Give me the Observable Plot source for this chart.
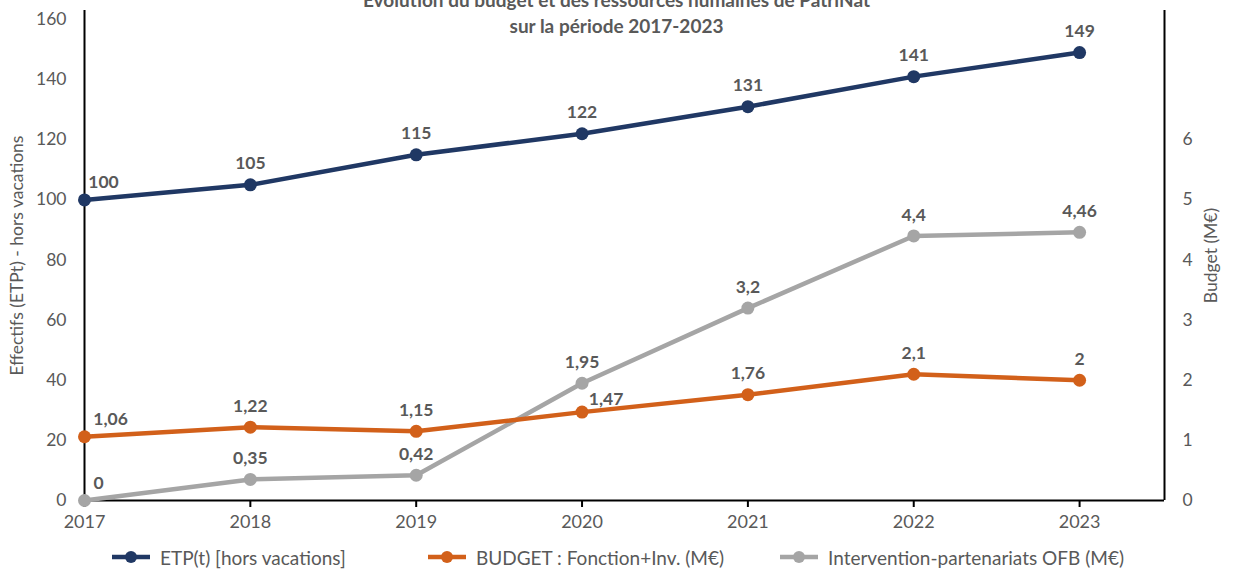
<!DOCTYPE html>
<html><head><meta charset="utf-8">
<script src="https://cdn.jsdelivr.net/npm/d3@7"></script>
<script src="https://cdn.jsdelivr.net/npm/@observablehq/plot@0.6"></script>
<style>
body{margin:0;background:#fff;font-family:Lato,"Open Sans",sans-serif;}
#wrap{position:relative;width:1233px;height:574px;overflow:hidden;}
#title{position:absolute;left:0;top:-13px;width:1233px;text-align:center;font-weight:bold;font-size:19px;line-height:26px;color:#595959;z-index:2;}
#legend{position:absolute;top:544px;left:0;width:1233px;height:26px;font-size:19px;color:#595959;}
.li{position:absolute;top:0;display:flex;align-items:center;height:26px;}
.li svg{margin-right:10px;}
svg.plot g[aria-label="line"] path{filter:drop-shadow(0px 7px 4px rgba(0,0,0,0.22));}
svg.plot g[aria-label="y-axis label"] text{font-size:19.5px;}
</style>
</head><body>
<div id="wrap">
<div id="title">Évolution du budget et des ressources humaines de PatriNat<br>sur la période 2017-2023</div>
<div id="chart"></div>
<div id="legend"></div>
</div>
<script>
const years = [2017, 2018, 2019, 2020, 2021, 2022, 2023];
const etp = [100, 105, 115, 122, 131, 141, 149];
const budget = [1.06, 1.22, 1.15, 1.47, 1.76, 2.1, 2];
const ofb = [0, 0.35, 0.42, 1.95, 3.2, 4.4, 4.46];
const leftTicks = [0, 20, 40, 60, 80, 100, 120, 140, 160];
const rightTicks = [0, 1, 2, 3, 4, 5, 6];
const seriesNames = ["ETP(t) [hors vacations]", "BUDGET : Fonction+Inv. (M€)", "Intervention-partenariats OFB (M€)"];
const colors = ["#203864", "#D2601A", "#A5A5A5"];

const ratio = 20; // right axis (M€) to left axis (ETPt)
const fmt = v => String(v).replace(".", ",");
const rows = [];
years.forEach((y, i) => {
  rows.push({year: y, s: 0, v: etp[i], plot: etp[i], label: fmt(etp[i]), i});
  rows.push({year: y, s: 1, v: budget[i], plot: budget[i] * ratio, label: fmt(budget[i]), i});
  rows.push({year: y, s: 2, v: ofb[i], plot: ofb[i] * ratio, label: fmt(ofb[i]), i});
});
// label placement tweaks (style, not data)
const special = new Map([["0-0", [19, -17]], ["1-0", [26, -17]], ["1-3", [24, -13]], ["2-0", [14, -17]]]);
const key = d => d.s + "-" + d.i;
const normal = rows.filter(d => !special.has(key(d)));
const sp = rows.filter(d => special.has(key(d)));

const xmax = 2023.512;
const order = [2, 1, 0];
const marks = [
  Plot.ruleY([0], {stroke: "#000", strokeWidth: 2}),
  Plot.ruleX([2017], {stroke: "#000", strokeWidth: 2}),
  Plot.ruleX([xmax], {stroke: "#000", strokeWidth: 2}),
  Plot.axisX({ticks: years, tickFormat: d => String(d), tickSize: 7, tickPadding: 8, stroke: "#000", strokeWidth: 2, fontSize: 18, color: "#595959", label: null}),
  Plot.axisY({anchor: "left", ticks: leftTicks, tickSize: 0, tickPadding: 18, fontSize: 17.5, label: "Effectifs (ETPt) - hors vacations", labelAnchor: "center", labelOffset: 74, labelArrow: "none"}),
  Plot.axisY({anchor: "right", ticks: rightTicks.map(t => t * ratio), tickFormat: d => String(d / ratio), tickSize: 0, tickPadding: 18, fontSize: 17.5, label: "Budget (M€)", labelAnchor: "center", labelOffset: 52, labelArrow: "none"})
];
order.forEach(s => {
  const data = rows.filter(d => d.s === s);
  marks.push(Plot.line(data, {x: "year", y: "plot", stroke: colors[s], strokeWidth: 4.5}));
  marks.push(Plot.dot(data, {x: "year", y: "plot", fill: colors[s], r: 6.5, stroke: "none"}));
});
marks.push(Plot.text(normal, {x: "year", y: "plot", text: "label", dy: -21, fill: "#595959", fontWeight: "bold", fontSize: 17.5}));
sp.forEach(d => {
  const [dx, dy] = special.get(key(d));
  marks.push(Plot.text([d], {x: "year", y: "plot", text: "label", dx, dy, fill: "#595959", fontWeight: "bold", fontSize: 17.5}));
});

const chart = Plot.plot({
  width: 1233,
  height: 540,
  marginLeft: 84,
  marginRight: 69,
  marginTop: 10,
  marginBottom: 40,
  style: {fontFamily: "Lato, 'Open Sans', sans-serif", color: "#595959", fontSize: "16px", background: "transparent"},
  x: {domain: [2017, xmax], range: [84, 1164]},
  y: {domain: [0, 163]},
  marks
});
document.getElementById("chart").appendChild(chart);

const legend = document.getElementById("legend");
const lx = [112, 428, 780];
seriesNames.forEach((name, s) => {
  const item = document.createElement("div");
  item.className = "li";
  item.style.left = lx[s] + "px";
  item.innerHTML = `<svg width="38" height="14"><line x1="0" y1="7" x2="38" y2="7" stroke="${colors[s]}" stroke-width="4.5"/><circle cx="19" cy="7" r="6" fill="${colors[s]}"/></svg><span>${name}</span>`;
  legend.appendChild(item);
});
</script>
</body></html>
